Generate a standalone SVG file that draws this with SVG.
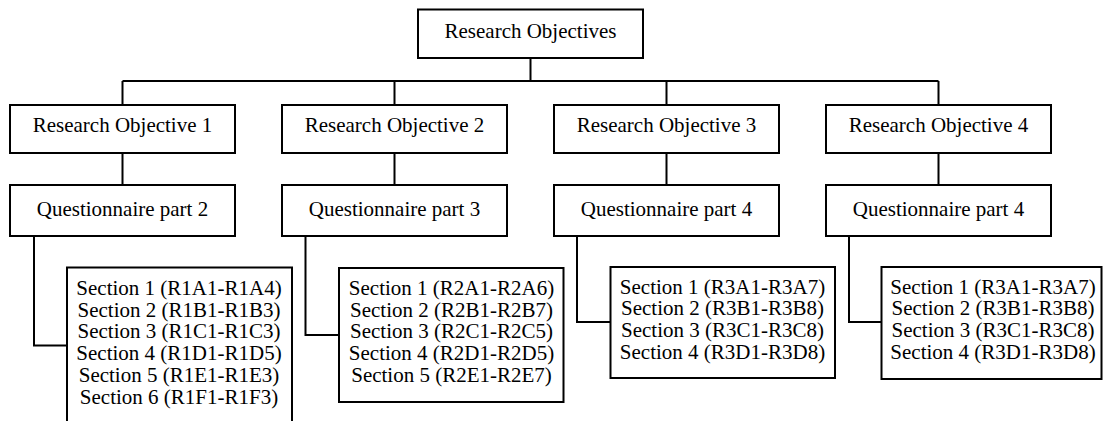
<svg xmlns="http://www.w3.org/2000/svg" width="1106" height="421" viewBox="0 0 1106 421">
  <style>
    .box { fill: #fff; stroke: #000; stroke-width: 2; }
    .link { fill: none; stroke: #000; stroke-width: 2; }
    .t { font-family: "Liberation Serif", "Times New Roman", serif; font-size: 20px; fill: #000; text-anchor: middle; }
  </style>
  <rect width="1106" height="421" fill="#fff"/>

  <!-- tree connectors -->
  <g id="connectors">
    <path class="link" d="M530.5,58 V81"/>
    <path class="link" d="M122.5,81 H938.5"/>
    <path class="link" d="M122.5,81 V105 M394.5,81 V105 M666.5,81 V105 M938.5,81 V105"/>
    <path class="link" d="M122.5,153 V185 M394.5,153 V185 M666.5,153 V185 M938.5,153 V185"/>
    <path class="link" d="M34,236 V345.5 H67"/>
    <path class="link" d="M305.5,236 V335 H339"/>
    <path class="link" d="M577,236 V322 H610.5"/>
    <path class="link" d="M849,236 V322 H881.5"/>
  </g>

  <g id="root">
    <rect class="box" x="418" y="9.5" width="225" height="48.5"/>
    <text class="t" transform="translate(530.5,38) scale(1.05,1)">Research Objectives</text>
  </g>

  <g id="objective1">
    <rect class="box" x="10" y="105" width="225" height="48"/>
    <text class="t" transform="translate(122.5,132) scale(1.05,1)">Research Objective 1</text>
  </g>
  <g id="objective2">
    <rect class="box" x="282" y="105" width="225" height="48"/>
    <text class="t" transform="translate(394.5,132) scale(1.05,1)">Research Objective 2</text>
  </g>
  <g id="objective3">
    <rect class="box" x="554" y="105" width="225" height="48"/>
    <text class="t" transform="translate(666.5,132) scale(1.05,1)">Research Objective 3</text>
  </g>
  <g id="objective4">
    <rect class="box" x="826" y="105" width="225" height="48"/>
    <text class="t" transform="translate(938.5,132) scale(1.05,1)">Research Objective 4</text>
  </g>

  <g id="questionnaire1">
    <rect class="box" x="10" y="185" width="225" height="51"/>
    <text class="t" transform="translate(122.5,215.5) scale(1.05,1)">Questionnaire part 2</text>
  </g>
  <g id="questionnaire2">
    <rect class="box" x="282" y="185" width="225" height="51"/>
    <text class="t" transform="translate(394.5,215.5) scale(1.05,1)">Questionnaire part 3</text>
  </g>
  <g id="questionnaire3">
    <rect class="box" x="554" y="185" width="225" height="51"/>
    <text class="t" transform="translate(666.5,215.5) scale(1.05,1)">Questionnaire part 4</text>
  </g>
  <g id="questionnaire4">
    <rect class="box" x="826" y="185" width="225" height="51"/>
    <text class="t" transform="translate(938.5,215.5) scale(1.05,1)">Questionnaire part 4</text>
  </g>

  <g id="sections1">
    <rect class="box" x="67" y="267.5" width="225" height="170"/>
    <text class="t" transform="translate(179,295) scale(1.05,1)">Section 1 (R1A1-R1A4)</text>
    <text class="t" transform="translate(179,316.7) scale(1.05,1)">Section 2 (R1B1-R1B3)</text>
    <text class="t" transform="translate(179,338.4) scale(1.05,1)">Section 3 (R1C1-R1C3)</text>
    <text class="t" transform="translate(179,360.1) scale(1.05,1)">Section 4 (R1D1-R1D5)</text>
    <text class="t" transform="translate(179,381.8) scale(1.05,1)">Section 5 (R1E1-R1E3)</text>
    <text class="t" transform="translate(179,403.5) scale(1.05,1)">Section 6 (R1F1-R1F3)</text>
  </g>
  <g id="sections2">
    <rect class="box" x="339" y="268" width="224.5" height="134"/>
    <text class="t" transform="translate(451.5,295) scale(1.05,1)">Section 1 (R2A1-R2A6)</text>
    <text class="t" transform="translate(451.5,316.7) scale(1.05,1)">Section 2 (R2B1-R2B7)</text>
    <text class="t" transform="translate(451.5,338.4) scale(1.05,1)">Section 3 (R2C1-R2C5)</text>
    <text class="t" transform="translate(451.5,360.1) scale(1.05,1)">Section 4 (R2D1-R2D5)</text>
    <text class="t" transform="translate(451.5,381.8) scale(1.05,1)">Section 5 (R2E1-R2E7)</text>
  </g>
  <g id="sections3">
    <rect class="box" x="610.5" y="267" width="224.5" height="111"/>
    <text class="t" transform="translate(722.5,293.5) scale(1.05,1)">Section 1 (R3A1-R3A7)</text>
    <text class="t" transform="translate(722.5,315.2) scale(1.05,1)">Section 2 (R3B1-R3B8)</text>
    <text class="t" transform="translate(722.5,336.9) scale(1.05,1)">Section 3 (R3C1-R3C8)</text>
    <text class="t" transform="translate(722.5,358.6) scale(1.05,1)">Section 4 (R3D1-R3D8)</text>
  </g>
  <g id="sections4">
    <rect class="box" x="881.5" y="267" width="220" height="112"/>
    <text class="t" transform="translate(993,293.5) scale(1.05,1)">Section 1 (R3A1-R3A7)</text>
    <text class="t" transform="translate(993,315.2) scale(1.05,1)">Section 2 (R3B1-R3B8)</text>
    <text class="t" transform="translate(993,336.9) scale(1.05,1)">Section 3 (R3C1-R3C8)</text>
    <text class="t" transform="translate(993,358.6) scale(1.05,1)">Section 4 (R3D1-R3D8)</text>
  </g>
</svg>
